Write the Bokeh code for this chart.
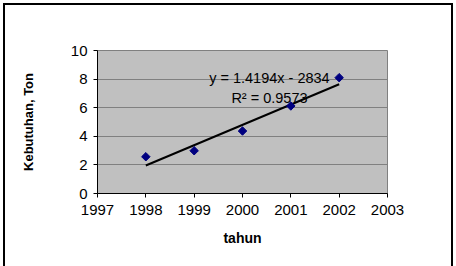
import math
from bokeh.plotting import figure
from bokeh.models import Range1d, FixedTicker, Label, ColumnDataSource
from bokeh.embed import file_html
from bokeh.resources import INLINE

years = [1998, 1999, 2000, 2001, 2002]
kebutuhan = [2.57, 2.99, 4.37, 6.12, 8.10]
slope = 1.4194
intercept = -2834
r2 = 0.9573
x_ticks = [1997, 1998, 1999, 2000, 2001, 2002, 2003]
y_ticks = [0, 2, 4, 6, 8, 10]

trend_x = [years[0], years[-1]]
trend_y = [slope * x + intercept for x in trend_x]

FONT = "Liberation Sans"

p = figure(width=456, height=266, output_backend="svg", toolbar_location=None,
           x_range=Range1d(1997, 2003), y_range=Range1d(0, 10))
p.min_border_left = 97
p.min_border_right = 69
p.min_border_top = 50
p.min_border_bottom = 73
p.background_fill_color = "#C0C0C0"
p.border_fill_color = None
p.outline_line_color = "#808080"
p.outline_line_width = 1
p.styles = {"background-color": "white",
            "box-shadow": ("inset 3px 0 0 0 white, inset -3px 0 0 0 white, "
                           "inset 0 3px 0 0 white, inset 5px 0 0 0 black, "
                           "inset -5px 0 0 0 black, inset 0 5px 0 0 black")}

p.xgrid.visible = False
p.ygrid.grid_line_color = "#808080"
p.ygrid.grid_line_width = 1
p.ygrid.ticker = FixedTicker(ticks=y_ticks)

for ax in (p.xaxis[0], p.yaxis[0]):
    ax.axis_line_color = "black"
    ax.axis_line_width = 1
    ax.major_tick_line_color = "black"
    ax.major_tick_out = 4
    ax.major_tick_in = 0
    ax.minor_tick_line_color = None
    ax.major_label_text_font = FONT
    ax.major_label_text_font_size = "15px"
    ax.major_label_text_color = "black"
    ax.axis_label_text_font = FONT
    ax.axis_label_text_font_style = "bold"
    ax.axis_label_text_color = "black"

p.xaxis.ticker = FixedTicker(ticks=x_ticks)
p.yaxis.ticker = FixedTicker(ticks=y_ticks)
p.xaxis.axis_label = "tahun"
p.xaxis.axis_label_text_font_size = "14px"
p.xaxis.major_label_standoff = 7
p.xaxis.axis_label_standoff = 12
p.yaxis.axis_label = "Kebutuhan, Ton"
p.yaxis.axis_label_text_font_size = "13px"
p.yaxis.major_label_standoff = 6
p.yaxis.axis_label_standoff = 32

p.line(trend_x, trend_y, line_color="black", line_width=2)
src = ColumnDataSource(dict(x=years, y=kebutuhan))
p.scatter("x", "y", source=src, marker="square", size=6, angle=math.pi / 4,
          fill_color="#000080", line_color="#000080")

p.add_layout(Label(x=1999.31, y=8.11, text=f"y = {slope}x - {abs(intercept)}",
                   text_font=FONT, text_font_size="14.5px", text_color="black",
                   text_baseline="alphabetic"))
p.add_layout(Label(x=1999.77, y=6.70, text=f"R² = {r2}",
                   text_font=FONT, text_font_size="14.5px", text_color="black",
                   text_baseline="alphabetic"))

open("out.html", "w").write(file_html(p, INLINE))
